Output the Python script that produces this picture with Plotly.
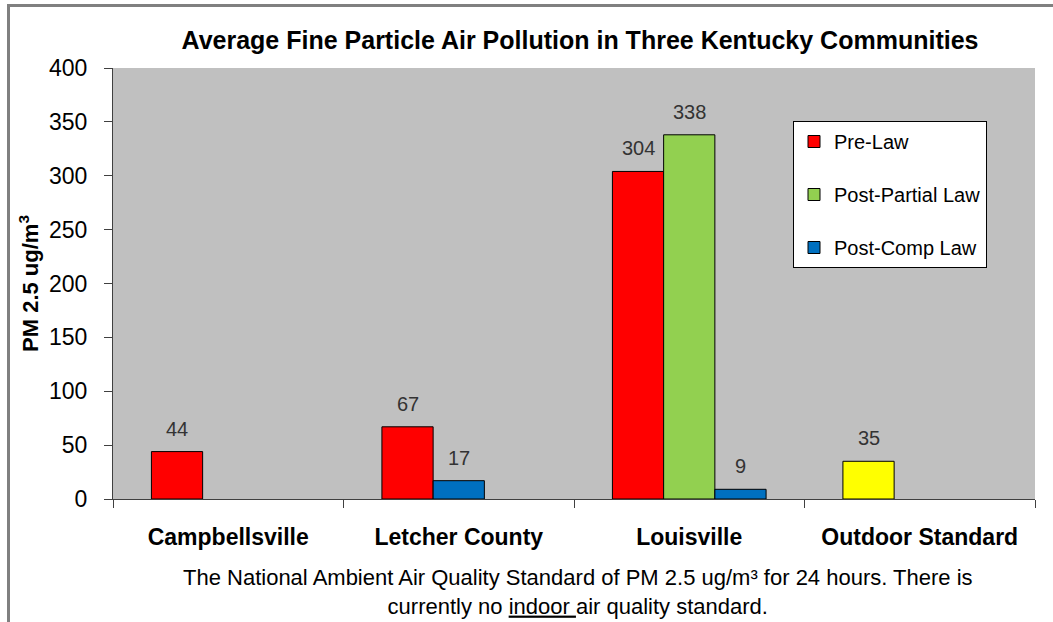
import plotly.graph_objects as go

categories = ["Campbellsville", "Letcher County", "Louisville", "Outdoor Standard"]
pre_law = [44, 67, 304, None]
post_partial = [None, None, 338, None]
post_comp = [None, None, 9, None]
letcher_post_comp = [None, 17, None, None]
outdoor_standard = [None, None, None, 35]

RED = "#FF0000"
GREEN = "#92D050"
BLUE = "#0070C0"
YELLOW = "#FFFF00"
FONT = "Arial, Liberation Sans, sans-serif"

L, R, T, B = 113, 18, 68, 123
W, H = 1053, 622
pw, ph = W - L - R, H - T - B
slot_px = pw / len(categories) * (2/3) / 3  # width of one bar slot in px

def bar(name, vals, color, group, showlegend=True, lg=None):
    return go.Bar(
        x=categories, y=vals, name=name,
        marker=dict(color=color, line=dict(color="#000000", width=1)),
        offsetgroup=group, legendgroup=lg or name, showlegend=showlegend,
    )

fig = go.Figure()
series = [
    ("Pre-Law", pre_law, RED, "1", True, None),
    ("Post-Partial Law", post_partial, GREEN, "2", True, None),
    ("Post-Comp Law", post_comp, BLUE, "3", True, None),
    ("Post-Comp Law", letcher_post_comp, BLUE, "2", False, "Post-Comp Law"),
    ("Outdoor Standard", outdoor_standard, YELLOW, "1", False, "os"),
]
for name, vals, color, group, sl, lg in series:
    fig.add_trace(bar(name, vals, color, group, sl, lg))
    slot = int(group) - 2
    for cat, v in zip(categories, vals):
        if v is None:
            continue
        fig.add_annotation(x=cat, y=v, text=str(v), showarrow=False,
                           xanchor="center", yanchor="middle",
                           xshift=slot * slot_px, yshift=23,
                           font=dict(family=FONT, size=20, color="#333333"))

fig.update_layout(
    width=W, height=H,
    margin=dict(l=L, r=R, t=T, b=B, pad=0),
    paper_bgcolor="white", plot_bgcolor="#C0C0C0",
    barmode="group", bargap=1/3, bargroupgap=0,
    font=dict(family=FONT, color="#000000"),
    title=dict(text="<b>Average Fine Particle Air Pollution in Three Kentucky Communities</b>",
               x=580 / W, xanchor="center", y=1 - 40/H, yanchor="middle",
               font=dict(size=25, color="#000000")),
    legend=dict(x=(793 - L)/pw, y=1 - (121 - T)/ph, xanchor="left", yanchor="top",
                bgcolor="white", bordercolor="#000000", borderwidth=1,
                font=dict(size=20, color="#000000"), tracegroupgap=24,
                traceorder="grouped", entrywidth=200, entrywidthmode="pixels"),
    xaxis=dict(showgrid=False, showline=True, linecolor="#404040", linewidth=1,
               ticks="outside", tickson="boundaries", ticklen=8, tickcolor="#404040",
               tickfont=dict(size=23, color="#000000"), ticklabelstandoff=17,
               tickprefix="<b>", ticksuffix="</b>"),
    yaxis=dict(range=[0, 400], dtick=50, showgrid=False, zeroline=False,
               showline=True, linecolor="#404040", linewidth=1,
               ticks="outside", ticklen=8, tickcolor="#404040",
               tickfont=dict(size=23, color="#000000"), ticklabelstandoff=12,
               title=dict(text="<b>PM 2.5 ug/m<sup>3</sup></b>", font=dict(size=22, color="#000000"),
                          standoff=4)),
    showlegend=True,
)

fig.add_annotation(
    text="The National Ambient Air Quality Standard of PM 2.5 ug/m³ for 24 hours. There is<br>currently no <u>indoor </u>air quality standard.",
    xref="paper", yref="paper", x=(578 - L)/pw, y=-(592 - (T + ph))/ph,
    xanchor="center", yanchor="middle", showarrow=False, align="center",
    font=dict(size=22, color="#000000", family=FONT),
)

# outer frame lines (left and top)
fig.add_shape(type="line", xref="paper", yref="paper",
              x0=(8.5 - L)/pw, x1=(8.5 - L)/pw, y0=1 + (T - 5.5)/ph, y1=-(B + 5)/ph,
              line=dict(color="#808080", width=3))
fig.add_shape(type="line", xref="paper", yref="paper",
              x0=(7 - L)/pw, x1=1 + (R + 5)/pw, y0=1 + (T - 5.5)/ph, y1=1 + (T - 5.5)/ph,
              line=dict(color="#808080", width=3))

fig.write_html("out.html", post_script="document.body.style.margin='0';",
               config={"displayModeBar": False})
